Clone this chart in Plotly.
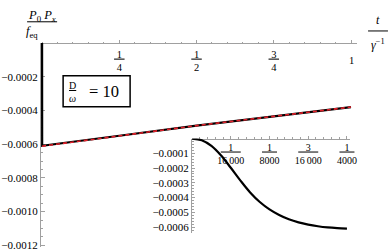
import plotly.graph_objects as go

# ---------------- data ----------------
# inset: early-time transient, t in units of 1/16000 (gamma^-1)
inset_t_units = [0, 0.25, 0.5, 0.75, 1.0, 1.25, 1.5, 1.75, 2.0, 2.25, 2.5, 2.75, 3.0, 3.25, 3.5, 3.75, 4.0]
inset_vals = [0.0, -0.000012, -0.00005, -0.000115, -0.000198, -0.000285, -0.000365, -0.00043, -0.00048,
              -0.000518, -0.000547, -0.000568, -0.000583, -0.000594, -0.000602, -0.000607, -0.00061]
inset_t = [u / 16000 for u in inset_t_units]

# main: long-time behaviour
main_t = [0.25, 0.5, 0.75, 1.0]
main_vals = [-0.00055, -0.00049, -0.000435, -0.00038]

# approximation (red dashed)
approx_t = [0.0, 0.25, 0.5, 0.75, 1.0]
approx_vals = [-0.000612, -0.00055, -0.00049, -0.000435, -0.00038]

main_xticks = [0.25, 0.5, 0.75]
main_xticktext = ["<u>\u00a01\u00a0</u><br>4", "<u>\u00a01\u00a0</u><br>2", "<u>\u00a03\u00a0</u><br>4"]
main_yticks = [-0.0002, -0.0004, -0.0006, -0.0008, -0.0010, -0.0012]
main_yticktext = ["\u22120.0002", "\u22120.0004", "\u22120.0006", "\u22120.0008", "\u22120.0010", "\u22120.0012"]

inset_xticks = [1 / 16000, 1 / 8000, 3 / 16000, 1 / 4000]
inset_xticktext = ["<u>\u00a0\u00a0\u00a01\u00a0\u00a0\u00a0</u><br>16\u2009000",
                   "<u>\u00a0\u00a01\u00a0\u00a0</u><br>8000",
                   "<u>\u00a0\u00a0\u00a03\u00a0\u00a0\u00a0</u><br>16\u2009000",
                   "<u>\u00a0\u00a01\u00a0\u00a0</u><br>4000"]
inset_yticks = [-0.0001, -0.0002, -0.0003, -0.0004, -0.0005, -0.0006]
inset_yticktext = ["\u22120.0001", "\u22120.0002", "\u22120.0003", "\u22120.0004", "\u22120.0005", "\u22120.0006"]

FONT = "Liberation Serif"
AX = "#a0a0a0"

fig = go.Figure()

fig.add_trace(go.Scatter(x=[0] + inset_t + main_t, y=[0] + inset_vals + main_vals,
                         mode="lines", line=dict(color="black", width=2.2),
                         xaxis="x", yaxis="y", showlegend=False, hoverinfo="skip"))
fig.add_trace(go.Scatter(x=approx_t, y=approx_vals, mode="lines",
                         line=dict(color="#e3212b", width=1.6, dash="4px,3px"),
                         xaxis="x", yaxis="y", showlegend=False, hoverinfo="skip"))
fig.add_trace(go.Scatter(x=inset_t, y=inset_vals, mode="lines", line=dict(color="black", width=2.2, shape="spline"),
                         xaxis="x2", yaxis="y2", showlegend=False, hoverinfo="skip"))

common = dict(showgrid=False, zeroline=False, showline=True, linecolor=AX, linewidth=1,
              tickcolor=AX, automargin=False, layer="below traces", ticklabeloverflow="allow")

fig.update_layout(
    template="none",
    width=390, height=250,
    margin=dict(l=41, r=33, t=43, b=3),
    paper_bgcolor="white", plot_bgcolor="rgba(0,0,0,0)",
    font=dict(family=FONT, size=11, color="black"),
    xaxis=dict(domain=[0, 1], range=[-0.0035, 1.0194], anchor="free", position=1, side="bottom",
               tickvals=main_xticks + [1.0], ticktext=main_xticktext + [""],
               ticks="inside", ticklen=3, tickfont=dict(family=FONT, size=10.5), ticklabelstandoff=1,
               minor=dict(ticks="inside", ticklen=1.5, tickcolor=AX, dtick=0.05), **common),
    yaxis=dict(domain=[0, 1], range=[-0.00121, 0], anchor="x",
               tickvals=main_yticks, ticktext=main_yticktext,
               ticks="inside", ticklen=3.5, tickfont=dict(family=FONT, size=11),
               minor=dict(ticks="inside", ticklen=2, tickcolor=AX, dtick=0.00005), **common),
    xaxis2=dict(domain=[0.478, 0.978], range=[0, 0.000255], anchor="free", position=0.5317, side="bottom",
                tickvals=inset_xticks, ticktext=inset_xticktext,
                ticks="inside", ticklen=3, tickfont=dict(family=FONT, size=10), ticklabelstandoff=-1,
                minor=dict(ticks="inside", ticklen=1.5, tickcolor=AX, dtick=0.0000125), **common),
    yaxis2=dict(domain=[0.0683, 0.5317], range=[-0.00064, 0], anchor="x2",
                tickvals=inset_yticks, ticktext=inset_yticktext,
                ticks="inside", ticklen=3, tickfont=dict(family=FONT, size=11),
                minor=dict(ticks="inside", ticklen=1.5, tickcolor=AX, dtick=0.00002), **common),
)

annotations = [
    # y label
    dict(text="<i>P</i><sub>0</sub> <i>P<sub>x</sub></i>",
         xref="paper", yref="paper", x=0.003, y=1.13, xanchor="center", yanchor="middle",
         showarrow=False, font=dict(family=FONT, size=12.5)),
    dict(text="<i>f</i><sub>eq</sub>",
         xref="paper", yref="paper", x=-0.028, y=1.053, xanchor="center", yanchor="middle",
         showarrow=False, font=dict(family=FONT, size=12.5)),
    # x label
    dict(text="<i>t</i>", xref="paper", yref="paper", x=1.066, y=1.112, xanchor="center", yanchor="middle",
         showarrow=False, font=dict(family=FONT, size=12)),
    dict(text="<i>\u03b3</i><sup>\u22121</sup>", xref="paper", yref="paper", x=1.066, y=0.995,
         xanchor="center", yanchor="middle", showarrow=False, font=dict(family=FONT, size=12)),
    # "1" tick label at t = 1
    dict(text="1", xref="x", yref="paper", x=1.0, y=0.912, xanchor="center", yanchor="middle",
         showarrow=False, font=dict(family=FONT, size=10.5)),
    # parameter box
    dict(text="<u>D</u><br><i>\u03c9</i>", xref="paper", yref="paper", x=0.101, y=0.762,
         xanchor="center", yanchor="middle", showarrow=False, font=dict(family=FONT, size=10)),
    dict(text="= 10", xref="paper", yref="paper", x=0.2, y=0.762,
         xanchor="center", yanchor="middle", showarrow=False, font=dict(family=FONT, size=16.5)),
]
fig.update_layout(annotations=annotations)
fig.add_shape(type="rect", xref="paper", yref="paper", x0=0.07, x1=0.282, y0=0.688, y1=0.839,
              line=dict(color="black", width=1.5), fillcolor="rgba(0,0,0,0)")
# fraction bars of the axis labels
fig.add_shape(type="line", xref="paper", yref="paper", x0=-0.044, x1=0.051, y0=1.104, y1=1.104,
              line=dict(color="black", width=1))
fig.add_shape(type="line", xref="paper", yref="paper", x0=1.035, x1=1.098, y0=1.059, y1=1.059,
              line=dict(color="black", width=1))

fig.write_html("out.html", config={"displayModeBar": False},
               post_script="document.body.style.margin='0';")
